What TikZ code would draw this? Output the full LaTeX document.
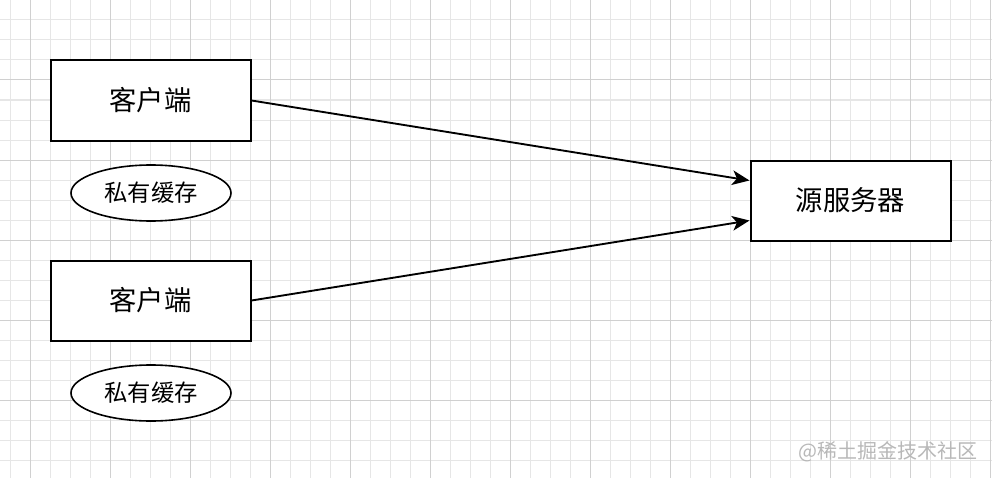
\documentclass[tikz,border=0pt]{standalone}
\usepackage{fontspec}
\newfontfamily\cjk{Noto Sans CJK SC}
\usetikzlibrary{arrows.meta,shapes.geometric}
\definecolor{gridminor}{HTML}{E6E6E6}
\definecolor{gridmajor}{HTML}{D0D0D0}
\definecolor{wm}{HTML}{B8B8B8}
\tikzset{
  boxnode/.style={draw=black, line width=1.5pt, fill=white, minimum width=150pt, minimum height=60pt, inner sep=0pt, font=\cjk\fontsize{20.5}{24}\selectfont},
  cachenode/.style={ellipse, draw=black, line width=1.2pt, fill=white, minimum width=120pt, minimum height=42pt, inner sep=0pt, font=\cjk\fontsize{17.5}{21}\selectfont},
  conn/.style={line width=1.4pt, -{Stealth[length=13pt, width=11pt, inset=3.5pt]}},
}
\begin{document}
\begin{tikzpicture}[x=0.75pt, y=-0.75pt]
\fill[white] (0,0) rectangle (992,478);
\useasboundingbox (0,0) rectangle (992,478);
% minor grid
\foreach \i in {10,30,...,990} \draw[gridminor, line width=0.75pt] (\i,0) -- (\i,478);
\foreach \j in {0,20,...,470} \draw[gridminor, line width=0.75pt] (0,\j) -- (992,\j);
% major grid
\foreach \i in {30,110,...,990} \draw[gridmajor, line width=0.75pt] (\i,0) -- (\i,478);
\foreach \j in {0,80,...,470} \draw[gridmajor, line width=0.75pt] (0,\j) -- (992,\j);

\node[boxnode] (c1) at (150.5,100.5) {客户端};
\node[cachenode] (p1) at (151,193) {私有缓存};
\node[boxnode] (c2) at (150.5,300.5) {客户端};
\node[cachenode] (p2) at (151,393) {私有缓存};
\node[boxnode] (s) at (850.5,200.5) {源服务器};

\draw[conn] (c1.east) -- ([shift={(0,-20)}]s.west);
\draw[conn] (c2.east) -- ([shift={(0,20)}]s.west);

\node[text=wm, font=\cjk\fontsize{15}{18}\selectfont, anchor=east] (wmk) at (982,452) {@稀土掘金技术社区};
\end{tikzpicture}
\end{document}
